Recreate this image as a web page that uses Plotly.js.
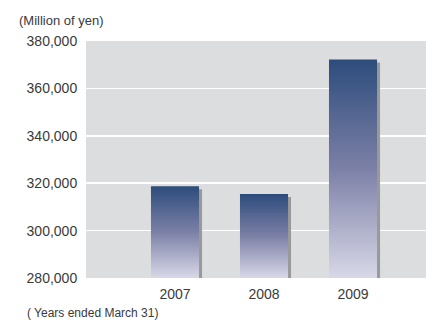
<!DOCTYPE html>
<html>
<head>
<meta charset="utf-8">
<script src="https://cdn.plot.ly/plotly-3.0.1.min.js"></script>
<style>html,body{margin:0;padding:0;background:#fff;}#chart{width:426px;height:322px;}</style>
</head>
<body>
<div id="chart"></div>
<script>
const categories = ['2007', '2008', '2009'];
const values = [318700, 315400, 372200];
const yTicks = [280000, 300000, 320000, 340000, 360000, 380000];
const yTickLabels = ['280,000', '300,000', '320,000', '340,000', '360,000', '380,000'];

const font = 'Liberation Sans, Arial, sans-serif';
const axisMin = 280000;
const trace = {
  type: 'bar',
  x: categories,
  y: values.map(function (v) { return v - axisMin; }),
  base: axisMin,
  width: 0.54,
  marker: { color: '#5a6a92', line: { width: 0 } },
  hoverinfo: 'none'
};

const layout = {
  width: 426, height: 322,
  margin: { l: 86, r: 0, t: 41, b: 44, pad: 0 },
  paper_bgcolor: '#ffffff',
  plot_bgcolor: '#dcdddf',
  showlegend: false,
  font: { family: font, size: 14, color: '#3a3a3a' },
  xaxis: {
    type: 'category',
    range: [-1, 2.82],
    showgrid: false, zeroline: false, showline: false,
    ticks: 'outside', ticklen: 3, tickcolor: 'rgba(0,0,0,0)',
    tickfont: { family: font, size: 14, color: '#3a3a3a' }
  },
  yaxis: {
    range: [280000, 380000],
    tickvals: yTicks, ticktext: yTickLabels,
    showgrid: true, gridcolor: '#ffffff', gridwidth: 1.5,
    zeroline: false, showline: false,
    ticks: 'outside', ticklen: 5, tickcolor: 'rgba(0,0,0,0)',
    tickfont: { family: font, size: 14, color: '#3a3a3a' }
  },
  annotations: [
    { text: '(Million of yen)', xref: 'paper', yref: 'paper', x: -86/340, y: 1 + 20/237,
      xanchor: 'left', yanchor: 'middle', xshift: 17, showarrow: false,
      font: { family: font, size: 13, color: '#3a3a3a' } },
    { text: '( Years ended March 31)', xref: 'paper', yref: 'paper', x: -86/340, y: -35/237,
      xanchor: 'left', yanchor: 'middle', xshift: 25, showarrow: false,
      font: { family: font, size: 12, color: '#3a3a3a' } }
  ]
};

Plotly.newPlot('chart', [trace], layout, { staticPlot: true, displayModeBar: false }).then(function (gd) {
  const svg = gd.querySelector('svg.main-svg');
  const ns = 'http://www.w3.org/2000/svg';
  let defs = svg.querySelector('defs');
  if (!defs) { defs = document.createElementNS(ns, 'defs'); svg.insertBefore(defs, svg.firstChild); }
  const grad = document.createElementNS(ns, 'linearGradient');
  grad.setAttribute('id', 'barGrad');
  grad.setAttribute('x1', '0'); grad.setAttribute('y1', '0');
  grad.setAttribute('x2', '0'); grad.setAttribute('y2', '1');
  [['0', '#2d4c7c'], ['0.5', '#7c80a6'], ['1', '#d8d8e8']].forEach(function (s) {
    const st = document.createElementNS(ns, 'stop');
    st.setAttribute('offset', s[0]); st.setAttribute('stop-color', s[1]);
    grad.appendChild(st);
  });
  defs.appendChild(grad);
  gd.querySelectorAll('.barlayer .point path').forEach(function (p) {
    const shadow = p.cloneNode(true);
    shadow.setAttribute('transform', 'translate(3,3)');
    shadow.style.fill = '#999999';
    shadow.style.fillOpacity = 1;
    p.parentNode.insertBefore(shadow, p);
    p.style.fill = 'url(#barGrad)';
  });
});
</script>
</body>
</html>
